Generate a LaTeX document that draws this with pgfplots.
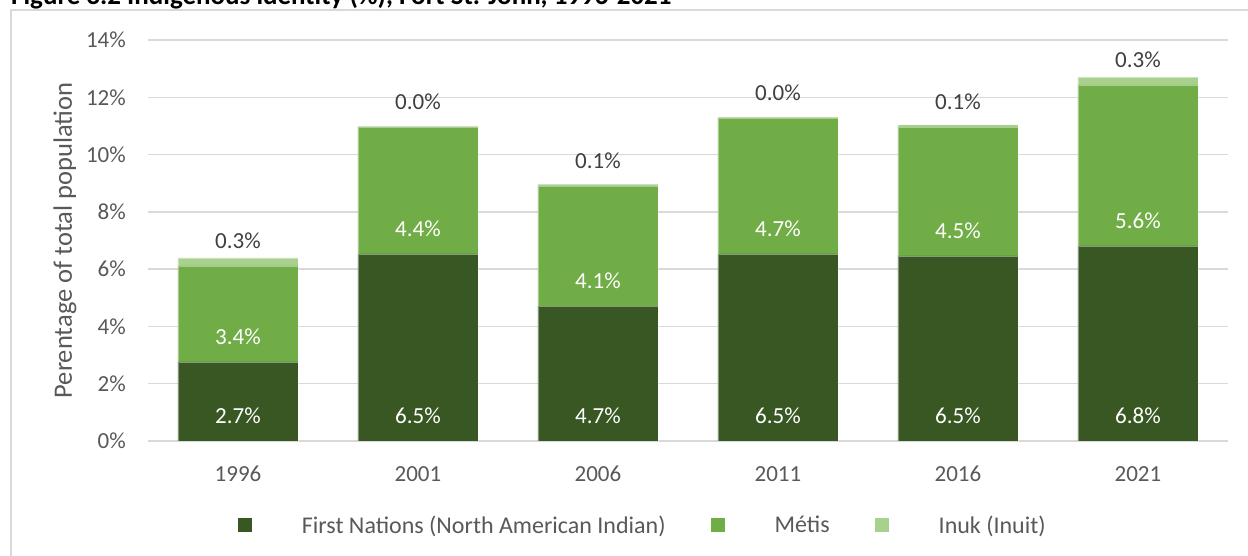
\documentclass[border=0pt]{standalone}
\usepackage{pgfplots}
\pgfplotsset{compat=1.18}
\usepackage{fontspec}
\setmainfont{Carlito}
\definecolor{fn}{HTML}{385723}
\definecolor{me}{HTML}{70AD47}
\definecolor{in}{HTML}{A9D18E}
\definecolor{tx}{HTML}{595959}
\definecolor{lb}{HTML}{404040}
\definecolor{gr}{HTML}{D9D9D9}
\newcommand\fs{\fontsize{23}{27}\selectfont}
\pgfplotsset{geom/.style={scale only axis, width=1080pt, height=401pt, at={(148pt,115pt)}, anchor=south west, xmin=-0.5, xmax=5.5, ymin=0, ymax=14}}
\begin{document}
\begin{tikzpicture}
\useasboundingbox (0,0) rectangle (1248pt,556pt);
\fill[white] (0,0) rectangle (1248pt,556pt);
\node[anchor=base west, inner sep=0pt, font=\bfseries\fontsize{27}{31}\selectfont] at (11pt,551.5pt) {Figure 3.2 Indigenous identity (\%), Fort St. John, 1996-2021};
\draw[gr, line width=2pt] (11pt,-5pt) -- (11pt,546pt) -- (1260pt,546pt);
\begin{axis}[geom, ybar stacked, bar width=120pt,
  axis line style={draw=none}, ymajorgrids, grid style={gr, line width=1.5pt},
  major tick length=0,
  ytick={0,2,...,14}, yticklabels={0\%,2\%,4\%,6\%,8\%,10\%,12\%,14\%},
  xtick={0,...,5}, xticklabels={1996,2001,2006,2011,2016,2021},
  tick label style={font=\fs, text=tx, inner sep=0pt},
  yticklabel style={xshift=-22pt}, xticklabel style={yshift=-25pt},
  ylabel={Perentage of total population},
  ylabel style={at={(axis description cs:-0.0769,0.5)}, anchor=center, font=\fontsize{26.5}{30}\selectfont, text=tx},
  legend style={at={(axis description cs:0.0833,-0.2095)}, anchor=west, draw=none, fill=none,
    inner sep=0pt, outer sep=0pt, font=\fontsize{24}{28}\selectfont, text=tx, nodes={inner sep=0pt},
    /tikz/every odd column/.append style={column sep=50pt},
    /tikz/every even column/.append style={column sep=45pt}},
  legend columns=-1,
  legend image code/.code={\path[#1, draw=none] (0pt,-7pt) rectangle (14pt,7pt);}
]
\addplot[fill=fn, draw=white, draw opacity=0.4, line width=0.8pt] coordinates {(0,2.76) (1,6.53) (2,4.71) (3,6.53) (4,6.46) (5,6.81)};
\addlegendentry{First Nations (North American Indian)}
\addplot[fill=me, draw=white, draw opacity=0.4, line width=0.8pt] coordinates {(0,3.35) (1,4.43) (2,4.19) (3,4.75) (4,4.50) (5,5.62)};
\addlegendentry{Métis}
\addplot[fill=in, draw=white, draw opacity=0.4, line width=0.8pt] coordinates {(0,0.28) (1,0.03) (2,0.07) (3,0.03) (4,0.08) (5,0.27)};
\addlegendentry{Inuk (Inuit)}
\end{axis}
\begin{axis}[geom, hide axis, clip=false, nodes near coords, point meta=explicit symbolic,
  every node near coord/.append style={anchor=center, yshift=25pt, font=\fs, inner sep=0pt}]
\addplot[draw=none, mark=none, every node near coord/.append style={text=white}] coordinates {(0,0)[2.7\%] (1,0)[6.5\%] (2,0)[4.7\%] (3,0)[6.5\%] (4,0)[6.5\%] (5,0)[6.8\%]};
\addplot[draw=none, mark=none, every node near coord/.append style={text=white}] coordinates {(0,2.76)[3.4\%] (1,6.53)[4.4\%] (2,4.71)[4.1\%] (3,6.53)[4.7\%] (4,6.46)[4.5\%] (5,6.81)[5.6\%]};
\addplot[draw=none, mark=none, every node near coord/.append style={text=lb}] coordinates {(0,6.11)[0.3\%] (1,10.96)[0.0\%] (2,8.90)[0.1\%] (3,11.28)[0.0\%] (4,10.96)[0.1\%] (5,12.43)[0.3\%]};
\end{axis}
\end{tikzpicture}
\end{document}
